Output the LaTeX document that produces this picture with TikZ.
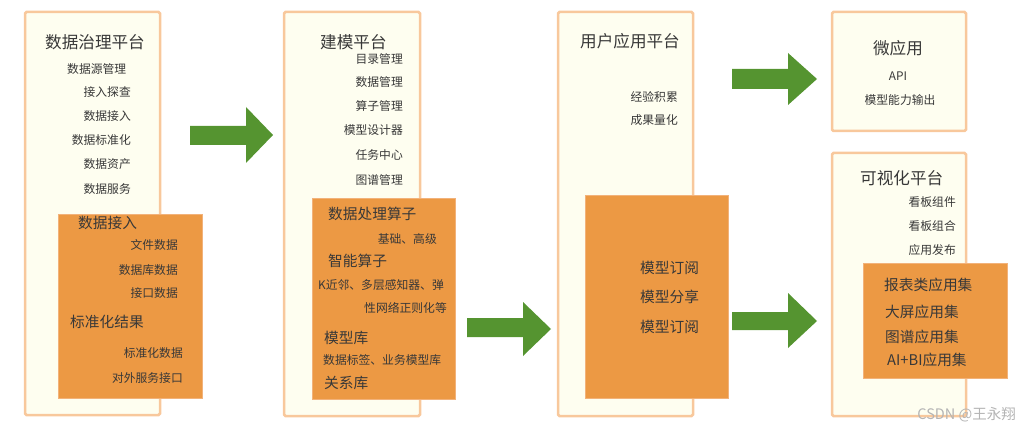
\documentclass[tikz,border=0pt]{standalone}
\usepackage{fontspec}
\setmainfont{Noto Sans CJK SC}
\definecolor{cream}{HTML}{FEFEF0}
\definecolor{pborder}{HTML}{F8C89C}
\definecolor{orangefill}{HTML}{EC9944}
\definecolor{orangeline}{HTML}{F2B27A}
\definecolor{arrowgreen}{HTML}{559430}
\definecolor{txt}{HTML}{383838}
\definecolor{wm}{HTML}{B4B4B4}
\tikzset{
  platform/.style={draw=pborder, line width=2.5pt, fill=cream, rounded corners=1.5pt, inner sep=0},
  subbox/.style={draw=orangeline, line width=0.6pt, fill=orangefill, inner sep=0},
  ttl/.style={font=\fontsize{16.6}{17}\selectfont, text=txt, inner sep=0},
  itm/.style={font=\fontsize{11.8}{12}\selectfont, text=txt, inner sep=0},
  big/.style={font=\fontsize{14.7}{15}\selectfont, text=txt, inner sep=0},
  garrow/.style={fill=arrowgreen}
}
\begin{document}
\begin{tikzpicture}[x=1pt,y=-1pt]
\useasboundingbox (0,0) rectangle (1031,433);
% platforms
\node[platform, minimum width=135, minimum height=403] (p1) at (92.5,213.5) {};
\node[platform, minimum width=136, minimum height=404] (p2) at (352,214) {};
\node[platform, minimum width=135, minimum height=404] (p3) at (625.5,214) {};
\node[platform, minimum width=134, minimum height=119] (p4) at (899,71.5) {};
\node[platform, minimum width=134, minimum height=263] (p5) at (899,284.5) {};
% sub boxes
\node[subbox, minimum width=144, minimum height=184] (s1) at (130,306) {};
\node[subbox, minimum width=143, minimum height=201] (s2) at (383.5,298.5) {};
\node[subbox, minimum width=143, minimum height=203] (s3) at (656.5,296.5) {};
\node[subbox, minimum width=144, minimum height=115] (s5) at (935,320.5) {};
% block arrows
\fill[garrow] (190,126) -- (246,126) -- (246,107) -- (273,135) -- (246,163) -- (246,145) -- (190,145) -- cycle;
\fill[garrow] (467,318) -- (523,318) -- (523,302) -- (551,329) -- (523,356) -- (523,337) -- (467,337) -- cycle;
\fill[garrow] (732,69) -- (788,69) -- (788,53) -- (817,79) -- (788,105) -- (788,89) -- (732,89) -- cycle;
\fill[garrow] (732,312) -- (788,312) -- (788,293) -- (817,321) -- (788,348) -- (788,330) -- (732,330) -- cycle;
% platform 1 texts
\node[ttl, anchor=west] (t1) at (45,42) {数据治理平台};
\node[itm, anchor=west] (t1a) at (67,69) {数据源管理};
\node[itm, anchor=east] (t1b) at (131,92) {接入探查};
\node[itm, anchor=east] (t1c) at (131,116) {数据接入};
\node[itm, anchor=east] (t1d) at (131,140) {数据标准化};
\node[itm, anchor=east] (t1e) at (131,164) {数据资产};
\node[itm, anchor=east] (t1f) at (131,189) {数据服务};
\node[big, anchor=west] (s1a) at (78,223) {数据接入};
\node[itm, anchor=east] (s1b) at (178,245) {文件数据};
\node[itm, anchor=east] (s1c) at (178,270) {数据库数据};
\node[itm, anchor=east] (s1d) at (178,293) {接口数据};
\node[big, anchor=west] (s1e) at (70,322) {标准化结果};
\node[itm, anchor=east] (s1f) at (183,353) {标准化数据};
\node[itm, anchor=east] (s1g) at (183,378) {对外服务接口};
% platform 2 texts
\node[ttl, anchor=west] (t2) at (320,42) {建模平台};
\node[itm, anchor=east] (t2a) at (403,59) {目录管理};
\node[itm, anchor=east] (t2b) at (403,82) {数据管理};
\node[itm, anchor=east] (t2c) at (403,106) {算子管理};
\node[itm, anchor=east] (t2d) at (403,130) {模型设计器};
\node[itm, anchor=east] (t2e) at (403,155) {任务中心};
\node[itm, anchor=east] (t2f) at (403,180) {图谱管理};
\node[big, anchor=west] (s2a) at (328,214) {数据处理算子};
\node[itm, anchor=east] (s2b) at (437,239) {基础、高级};
\node[big, anchor=west] (s2c) at (328,261) {智能算子};
\node[itm, anchor=west] (s2d) at (318,285) {K近邻、多层感知器、弹};
\node[itm, anchor=east] (s2e) at (447,308) {性网络正则化等};
\node[big, anchor=west] (s2f) at (324,338) {模型库};
\node[itm, anchor=west] (s2g) at (323,360) {数据标签、业务模型库};
\node[big, anchor=west] (s2h) at (324,383) {关系库};
% platform 3 texts
\node[ttl, anchor=west] (t3) at (580,41) {用户应用平台};
\node[itm, anchor=east] (t3a) at (678,97) {经验积累};
\node[itm, anchor=east] (t3b) at (678,120) {成果量化};
\node[big, anchor=west] (s3a) at (640,268) {模型订阅};
\node[big, anchor=west] (s3b) at (640,297) {模型分享};
\node[big, anchor=west] (s3c) at (640,327) {模型订阅};
% platform 4 texts
\node[ttl] (t4) at (898,48) {微应用};
\node[itm] (t4a) at (898,76) {API};
\node[itm] (t4b) at (900,100) {模型能力输出};
% platform 5 texts
\node[ttl, anchor=west] (t5) at (860,178) {可视化平台};
\node[itm, anchor=east] (t5a) at (956,202) {看板组件};
\node[itm, anchor=east] (t5b) at (956,226) {看板组合};
\node[itm, anchor=east] (t5c) at (956,250) {应用发布};
\node[big, anchor=west] (s5a) at (884,285) {报表类应用集};
\node[big, anchor=west] (s5b) at (885,312) {大屏应用集};
\node[big, anchor=west] (s5c) at (885,337) {图谱应用集};
\node[big, anchor=west] (s5d) at (887,360) {AI+BI应用集};
% watermark
\node[font=\fontsize{14.5}{15}\selectfont, text=wm, anchor=east, inner sep=0] (wm) at (1016,415) {CSDN @王永翔};
\end{tikzpicture}
\end{document}
